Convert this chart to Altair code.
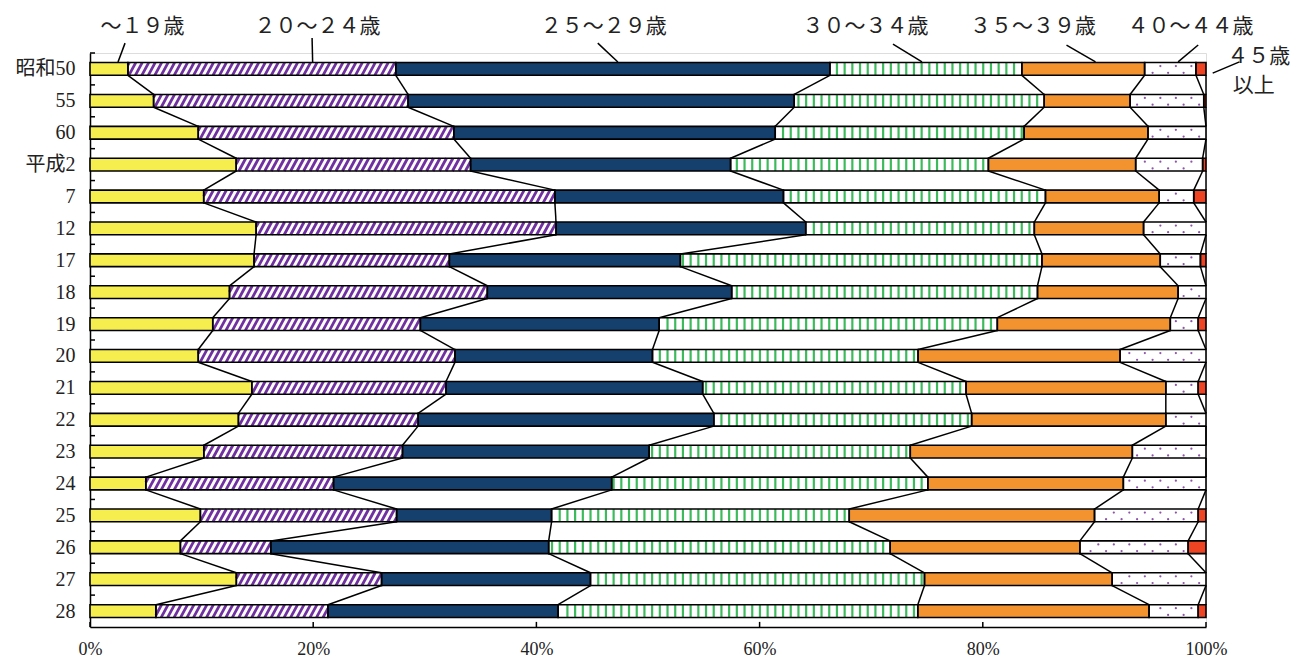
import json
import math
import altair as alt
import pandas as pd

# ---------------- data ----------------
categories = ["昭和50", "55", "60", "平成2", "7", "12", "17", "18", "19",
              "20", "21", "22", "23", "24", "25", "26", "27", "28"]
age_groups = ["～19歳", "20～24歳", "25～29歳", "30～34歳", "35～39歳", "40～44歳", "45歳以上"]

u19 = [3.4, 5.7, 9.7, 13.1, 10.2, 14.9, 14.7, 12.5, 11.0, 9.7, 14.5, 13.3, 10.2, 5.0, 9.9, 8.1, 13.1, 5.9]
a20 = [24.0, 22.8, 22.9, 21.0, 31.5, 26.9, 17.5, 23.1, 18.6, 23.0, 17.4, 16.1, 17.8, 16.8, 17.6, 8.1, 13.0, 15.4]
a25 = [38.9, 34.6, 28.8, 23.3, 20.5, 22.4, 20.7, 21.9, 21.4, 17.7, 23.0, 26.5, 22.1, 24.9, 13.9, 24.9, 18.7, 20.6]
a30 = [17.2, 22.4, 22.3, 23.1, 23.5, 20.5, 32.4, 27.4, 30.3, 23.8, 23.6, 23.1, 23.4, 28.3, 26.7, 30.6, 29.9, 32.2]
a35 = [11.0, 7.7, 11.1, 13.2, 10.2, 9.8, 10.6, 12.6, 15.5, 18.1, 17.9, 17.4, 19.9, 17.5, 22.0, 17.0, 16.8, 20.7]
a40 = [4.6, 6.6, 5.2, 6.0, 3.1, 5.6, 3.6, 2.5, 2.5, 7.7, 2.9, 3.6, 6.6, 7.4, 9.3, 9.7, 8.4, 4.4]
a45 = [0.9, 0.2, 0.0, 0.3, 1.1, 0.0, 0.5, 0.0, 0.7, 0.0, 0.7, 0.0, 0.0, 0.0, 0.7, 1.6, 0.0, 0.7]

x_ticks = [0, 20, 40, 60, 80, 100]

# annotation labels (full-width text as in the original)
ann_labels = ["～１９歳", "２０～２４歳", "２５～２９歳", "３０～３４歳", "３５～３９歳", "４０～４４歳", "４５歳", "以上"]

# ---------------- styles ----------------
fills = ["#F5EE4E", "#FFFFFF", "#153F6D", "#FFFFFF", "#F29330", "#FFFFFF", "#EE4423"]
PURPLE = "#7030A0"
GREEN = "#3DBB5C"
DOT = "#8E54A8"
HALF = 0.2          # half bar height in row units
FONT = "Liberation Serif, Noto Sans CJK JP"
AFONT = "Noto Sans CJK JP"

series = [u19, a20, a25, a30, a35, a40, a45]

# ---------------- build tables ----------------
rows = []
for i, cat in enumerate(categories):
    vals = [s[i] for s in series]
    tot = sum(vals)
    cum = 0.0
    for g, v in zip(age_groups, vals):
        start = cum / tot * 100
        cum += v
        end = cum / tot * 100
        rows.append(dict(row=i, cat=cat, group=g, value=v, start=start, end=end,
                         y0=i - HALF, y1=i + HALF))
bars = pd.DataFrame(rows)
bars_nz = bars[bars["value"] > 0]

# connector lines between consecutive bars
conn = []
for i in range(len(categories) - 1):
    for g in age_groups:
        a = bars[(bars.row == i) & (bars.group == g)].iloc[0]
        b = bars[(bars.row == i + 1) & (bars.group == g)].iloc[0]
        conn.append(dict(x=a.end, x2=b.end, y=i + HALF, y2=i + 1 - HALF))
conn = pd.DataFrame(conn)

# diagonal hatch for 20-24
P_H, D_H = 0.58, 0.62
hatch = []
for _, r in bars[bars.group == age_groups[1]].iterrows():
    a, b, i = r.start, r.end, r.row
    for k in range(int(math.floor((a - D_H) / P_H)) - 1, int(math.ceil(b / P_H)) + 1):
        x0 = k * P_H
        t0 = max(0.0, (a - x0) / D_H)
        t1 = min(1.0, (b - x0) / D_H)
        if t1 - t0 > 0.02:
            hatch.append(dict(x=x0 + t0 * D_H, x2=x0 + t1 * D_H,
                              y=i + HALF - t0 * 2 * HALF, y2=i + HALF - t1 * 2 * HALF))
hatch = pd.DataFrame(hatch)

# vertical stripes for 30-34
P_V = 0.69
vstripe = []
for _, r in bars[bars.group == age_groups[3]].iterrows():
    a, b, i = r.start, r.end, r.row
    for k in range(int(a / P_V), int(b / P_V) + 2):
        x = k * P_V
        if a + 0.15 < x < b - 0.15:
            vstripe.append(dict(x=x, y=i - HALF, y2=i + HALF))
vstripe = pd.DataFrame(vstripe)

# dots for 40-44
P_D = 1.39
dots = []
for _, r in bars[bars.group == age_groups[5]].iterrows():
    a, b, i = r.start, r.end, r.row
    for k in range(int(a / P_D) - 1, int(b / P_D) + 2):
        for off, dy in ((0.0, -0.09), (P_D / 2, 0.12)):
            x = k * P_D + off
            if a + 0.35 < x < b - 0.35:
                dots.append(dict(x=x, y=i + dy))
dots = pd.DataFrame(dots)

# inward ticks
ytk = pd.DataFrame([dict(x=0, x2=0.45, y=i + 0.5) for i in range(-1, len(categories) - 1)])
xtk = pd.DataFrame([dict(x=v, y=len(categories) - 0.5, y2=len(categories) - 0.66) for v in x_ticks])

# annotations: label text positions and leader lines (x in %, y in row units)
ann_text = pd.DataFrame([
    dict(t=ann_labels[0], x=4.7, y=-1.32, al="center"),
    dict(t=ann_labels[1], x=20.39, y=-1.32, al="center"),
    dict(t=ann_labels[2], x=46.04, y=-1.32, al="center"),
    dict(t=ann_labels[3], x=69.5, y=-1.32, al="center"),
    dict(t=ann_labels[4], x=84.5, y=-1.32, al="center"),
    dict(t=ann_labels[5], x=98.6, y=-1.32, al="center"),
    dict(t=ann_labels[6], x=101.9, y=-0.38, al="left"),
    dict(t=ann_labels[7], x=102.4, y=0.55, al="left"),
])
ann_line = pd.DataFrame([
    dict(x=3.14, y=-0.81, x2=2.51, y2=-0.22),
    dict(x=19.9, y=-0.97, x2=19.95, y2=-0.22),
    dict(x=45.5, y=-0.81, x2=47.3, y2=-0.22),
    dict(x=71.95, y=-0.78, x2=74.55, y2=-0.22),
    dict(x=87.5, y=-0.75, x2=90.1, y2=-0.22),
    dict(x=99.3, y=-0.75, x2=97.5, y2=-0.22),
    dict(x=103.0, y=-0.22, x2=100.6, y2=0.13),
])

# ---------------- chart ----------------
xs = alt.Scale(domain=[0, 100], nice=False, zero=False)
ys = alt.Scale(domain=[-0.5, len(categories) - 0.5], reverse=True, nice=False, zero=False)

label_expr = json.dumps(categories, ensure_ascii=False) + "[datum.value]"

ax_x = alt.Axis(values=x_ticks, labelExpr="datum.value + '%'", tickSize=0, grid=False,
                domainColor="black", domainWidth=1.5, labelFont=FONT, labelFontSize=18,
                labelColor="#222", labelPadding=13, labelFlush=False, title=None)
ax_y = alt.Axis(values=list(range(len(categories))), labelExpr=label_expr, tickSize=0, grid=False,
                domainColor="black", domainWidth=1.5, labelFont=FONT, labelFontSize=20,
                labelColor="#222", labelPadding=15, labelOverlap=False, labelFlush=False, title=None)


def X(f):
    return alt.X(f, scale=xs, axis=ax_x)


def Y(f):
    return alt.Y(f, scale=ys, axis=ax_y)


base_fill = alt.Chart(bars_nz).mark_rect(strokeWidth=0).encode(
    x=X("start:Q"), x2="end:Q", y=Y("y0:Q"), y2="y1:Q",
    fill=alt.Color("group:N", scale=alt.Scale(domain=age_groups, range=fills), legend=None),
)

hatch_l = alt.Chart(hatch).mark_rule(color=PURPLE, strokeWidth=2.8, strokeCap="butt").encode(
    x=X("x:Q"), x2="x2:Q", y=Y("y:Q"), y2="y2:Q")

vs_l = alt.Chart(vstripe).mark_rule(color=GREEN, strokeWidth=2.2, strokeCap="butt").encode(
    x=X("x:Q"), y=Y("y:Q"), y2="y2:Q")

dot_l = alt.Chart(dots).mark_circle(color=DOT, size=5, opacity=1).encode(
    x=X("x:Q"), y=Y("y:Q"))

outline = alt.Chart(bars_nz).mark_rect(fillOpacity=0, stroke="black", strokeWidth=1.6).encode(
    x=X("start:Q"), x2="end:Q", y=Y("y0:Q"), y2="y1:Q")

conn_l = alt.Chart(conn).mark_rule(color="black", strokeWidth=1.5).encode(
    x=X("x:Q"), x2="x2:Q", y=Y("y:Q"), y2="y2:Q")

ytk_l = alt.Chart(ytk).mark_rule(color="black", strokeWidth=1.5).encode(
    x=X("x:Q"), x2="x2:Q", y=Y("y:Q"))

xtk_l = alt.Chart(xtk).mark_rule(color="black", strokeWidth=1.5).encode(
    x=X("x:Q"), y=Y("y:Q"), y2="y2:Q")

ann_line_l = alt.Chart(ann_line).mark_rule(color="black", strokeWidth=1.5).encode(
    x=X("x:Q"), x2="x2:Q", y=Y("y:Q"), y2="y2:Q")

ann_c = alt.Chart(ann_text[ann_text.al == "center"]).mark_text(
    font=AFONT, fontSize=21, color="#222", align="center", baseline="middle").encode(
    x=X("x:Q"), y=Y("y:Q"), text="t:N")

ann_lft = alt.Chart(ann_text[ann_text.al == "left"]).mark_text(
    font=AFONT, fontSize=21, color="#222", align="left", baseline="middle").encode(
    x=X("x:Q"), y=Y("y:Q"), text="t:N")

chart = alt.layer(
    base_fill, hatch_l, vs_l, dot_l, outline, conn_l, ytk_l, xtk_l, ann_line_l, ann_c, ann_lft
).properties(
    width=1116, height=574,
    autosize=alt.AutoSizeParams(type="none"),
    padding={"left": 82, "top": 45, "right": 84, "bottom": 33},
).configure_view(strokeWidth=0).configure(background="white")

chart.save("out.html", embed_options={"renderer": "svg", "actions": False})
